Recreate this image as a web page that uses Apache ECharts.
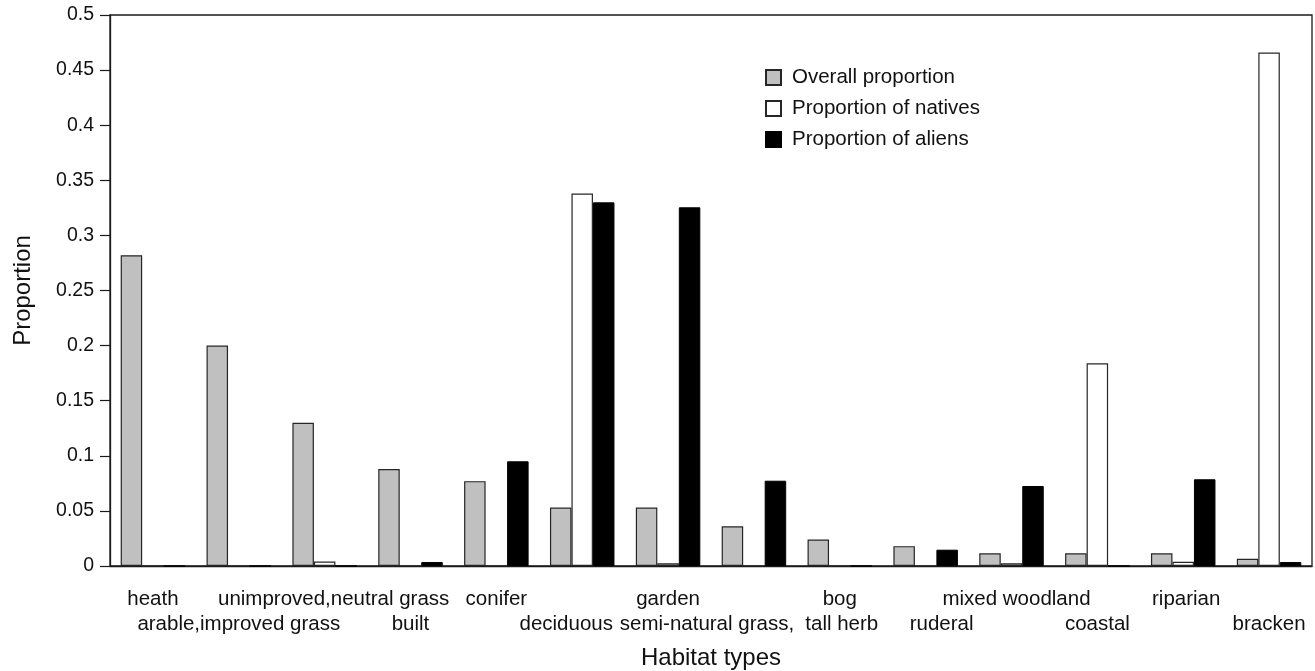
<!DOCTYPE html>
<html>
<head>
<meta charset="utf-8">
<script src="https://cdn.jsdelivr.net/npm/echarts@6/dist/echarts.min.js"></script>
<style>
  html, body { margin: 0; padding: 0; background: #ffffff; }
  #chart { width: 1315px; height: 671px; }
</style>
</head>
<body>
<div id="chart"></div>
<script>
// Habitat categories (one bar group each)
const habitats = [
  'heath', 'arable,improved grass', 'unimproved,neutral grass', 'built',
  'conifer', 'deciduous', 'garden', 'semi-natural grass', 'bog, tall herb',
  'ruderal', 'mixed woodland', 'coastal', 'riparian', 'bracken'
];

// Axis label text, staggered over two rows
const labelsUpper = [
  'heath', '', 'unimproved,neutral grass', '', 'conifer', '', 'garden', '',
  'bog', '', 'mixed woodland', '', 'riparian', ''
];
const labelsLower = [
  '', 'arable,improved grass', '', 'built', '', 'deciduous', '',
  'semi-natural grass,', 'tall herb', 'ruderal', '', 'coastal', '', 'bracken'
];

// Series values
const overallProportion = [0.282, 0.200, 0.130, 0.088, 0.077, 0.053, 0.053, 0.036, 0.024, 0.018, 0.0115, 0.0115, 0.0115, 0.0066];
const nativeProportion  = [0, 0, 0.004, 0, 0, 0.338, 0.0024, 0, 0, 0, 0.0024, 0.184, 0.0039, 0.466];
const alienProportion   = [0, 0, 0, 0.0036, 0.095, 0.330, 0.3255, 0.0774, 0, 0.0148, 0.0726, 0, 0.0787, 0.0036];

// Y axis tick range
const yMin = 0, yMax = 0.5, yStep = 0.05;

// Horizontal nudges (px) for the upper / lower label rows
const upperShift = [0, 0, 9, 0, 0, 0, 0, 0, 0, 0, 5, 0, 3, 0];
const lowerShift = [0, 0, 0, 0, 0, -16, 0, -47, 2, 16, 0, 0, 0, 0];

const FONT = '"Liberation Sans", Arial, Helvetica, sans-serif';
const INK = '#111111';

function shiftStyle(dx) {
  // a centred token moves by dx when padded 2*dx on the opposite side
  const pad = dx >= 0 ? [0, 0, 0, 2 * dx] : [0, -2 * dx, 0, 0];
  return { fontSize: 20.5, fontFamily: FONT, color: INK, lineHeight: 25, padding: pad };
}
const rich = {};
habitats.forEach((_, i) => {
  rich['u' + i] = shiftStyle(upperShift[i]);
  rich['l' + i] = shiftStyle(lowerShift[i]);
});

const chart = echarts.init(document.getElementById('chart'), null, { renderer: 'canvas' });

const edge = { borderColor: '#262626', borderWidth: 1.2 };

chart.setOption({
  animation: false,
  backgroundColor: '#ffffff',
  grid: {
    left: 110, right: 3, top: 15, bottom: 105,
    containLabel: false,
    outerBoundsMode: 'none',
    show: true, borderColor: '#1a1a1a', borderWidth: 1.3, backgroundColor: 'transparent'
  },
  legend: {
    orient: 'vertical',
    left: 760, top: 62,
    itemWidth: 15, itemHeight: 15, itemGap: 10,
    icon: 'rect',
    textStyle: { fontSize: 20.5, fontFamily: FONT, color: INK, lineHeight: 21, padding: [0, 0, 0, 6] },
    data: ['Overall proportion', 'Proportion of natives', 'Proportion of aliens']
  },
  xAxis: {
    type: 'category',
    data: habitats,
    name: 'Habitat types',
    nameLocation: 'middle',
    nameGap: 80,
    nameTextStyle: { fontSize: 24, fontFamily: FONT, color: INK },
    axisLine: { lineStyle: { color: '#1a1a1a', width: 1.3 } },
    axisTick: { alignWithLabel: true, length: 10, lineStyle: { color: '#1a1a1a', width: 1.2 } },
    axisLabel: {
      interval: 0,
      margin: 21,
      rich: rich,
      formatter: function (value, idx) {
        const up = labelsUpper[idx] || ' ';
        const lo = labelsLower[idx] || ' ';
        return '{u' + idx + '|' + up + '}\n{l' + idx + '|' + lo + '}';
      }
    },
    splitLine: { show: false }
  },
  yAxis: {
    type: 'value',
    min: yMin, max: yMax, interval: yStep,
    name: 'Proportion',
    nameLocation: 'middle',
    nameGap: 75,
    nameTextStyle: { fontSize: 24, fontFamily: FONT, color: INK },
    axisLine: { show: true, lineStyle: { color: '#1a1a1a', width: 1.3 } },
    axisTick: { show: true, length: 10, lineStyle: { color: '#1a1a1a', width: 1.2 } },
    axisLabel: {
      margin: 16,
      fontSize: 19.5, fontFamily: FONT, color: INK,
      formatter: v => String(Math.round(v * 100) / 100)
    },
    splitLine: { show: false }
  },
  series: [
    {
      name: 'Overall proportion', type: 'bar', data: overallProportion,
      barWidth: 21.5, barGap: '0%',
      itemStyle: Object.assign({ color: '#c0c0c0' }, edge)
    },
    {
      name: 'Proportion of natives', type: 'bar', data: nativeProportion,
      barWidth: 21.5, barGap: '0%',
      itemStyle: Object.assign({ color: '#ffffff' }, edge)
    },
    {
      name: 'Proportion of aliens', type: 'bar', data: alienProportion,
      barWidth: 21.5, barGap: '0%',
      itemStyle: { color: '#000000', borderColor: '#000000', borderWidth: 1 }
    }
  ]
});
</script>
</body>
</html>
